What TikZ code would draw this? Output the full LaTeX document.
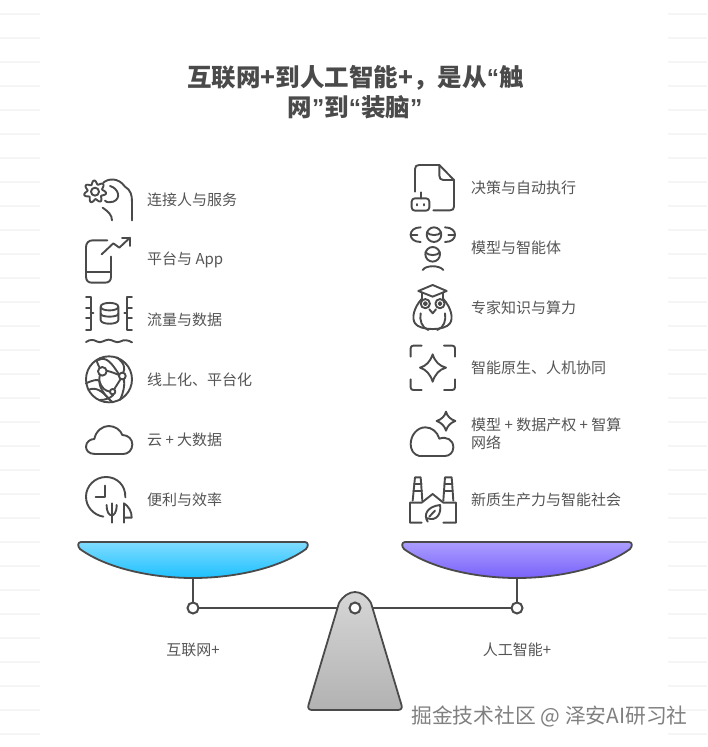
\documentclass[tikz,border=0pt]{standalone}
\usepackage{fontspec}
\setmainfont{Noto Sans CJK SC}
\newfontfamily\qfont{Liberation Sans}
\usetikzlibrary{calc}
\definecolor{ink}{HTML}{4A4A4A}
\definecolor{txt}{HTML}{555555}
\tikzset{
 lbl/.style={anchor=west,inner sep=0pt,font=\fontsize{15}{18}\selectfont,text=txt,align=left},
 caplbl/.style={anchor=center,inner sep=0pt,font=\fontsize{15}{18}\selectfont,text=txt},
 ttl/.style={anchor=center,inner sep=0pt,font=\fontsize{24.5}{30}\selectfont\bfseries,text=ink},
 ico/.style={draw=ink,line width=1.9pt,line cap=round,line join=round,fill=none},
 beamline/.style={draw=ink,line width=2pt},
 pivot/.style={circle,draw=ink,line width=2pt,fill=white,minimum size=11pt,inner sep=0pt},
 stripe/.style={draw=black!4,line width=1.5pt},
 za/.style={shift={(60pt,-160pt)},x=.3333pt,y=-.3333pt},
 zb/.style={shift={(60pt,-340pt)},x=.3333pt,y=-.3333pt},
 zc/.style={shift={(390pt,-155pt)},x=.3333pt,y=-.3333pt},
 zd/.style={shift={(390pt,-340pt)},x=.3333pt,y=-.3333pt},
}
\begin{document}
\begin{tikzpicture}[x=1pt,y=-1pt]
\useasboundingbox[fill=white] (0,0) rectangle (707,747);
% faint stripes
\foreach \k in {0,...,30}{
  \draw[stripe] (0,14+24*\k) -- (40,14+24*\k);
  \draw[stripe] (668,14+24*\k) -- (707,14+24*\k);
}
% title
\node[ttl] (t1) at (355.5,78) {互联网+到人工智能+，是从{\qfont\bfseries “}触};
\node[ttl] (t2) at (355,107) {网{\qfont\bfseries ”}到{\qfont\bfseries “}装脑{\qfont\bfseries ”}};
% left labels
\node[lbl] (l1) at (147,199.5) {连接人与服务};
\node[lbl] (l2) at (147,260) {平台与 App};
\node[lbl] (l3) at (147,319.5) {流量与数据};
\node[lbl] (l4) at (147,379.5) {线上化、平台化};
\node[lbl] (l5) at (147,439.5) {云 + 大数据};
\node[lbl] (l6) at (147,499.5) {便利与效率};
% right labels
\node[lbl] (r1) at (471,187.5) {决策与自动执行};
\node[lbl] (r2) at (471,247.5) {模型与智能体};
\node[lbl] (r3) at (471,307.5) {专家知识与算力};
\node[lbl] (r4) at (471,367.5) {智能原生、人机协同};
\node[lbl] (r5) at (471,433.5) {模型 + 数据产权 + 智算\\网络};
\node[lbl] (r6) at (471,499.5) {新质生产力与智能社会};
% ---- left icons
\begin{scope}[za]
 % gear + hand
 \draw[ico] plot[domain=0:360,samples=145,smooth] ({105+(28+5.5*sin(7*\x+30))*cos(\x)},{95+(28+5.5*sin(7*\x+30))*sin(\x)});
 \draw[ico] (105,95) circle (4pt);
 \draw[ico] (130,68) .. controls (145,55) and (175,52) .. (195,80) .. controls (212,90) and (216,105) .. (216,125) -- (216,181);
 \draw[ico] (150,78) .. controls (175,85) and (185,115) .. (160,125) .. controls (152,128) and (140,128) .. (135,122);
 \draw[ico] (128,143) .. controls (145,155) and (156,165) .. (156,181);
 % phone + arrow
 \draw[ico] (142,241) -- (98,241) .. controls (85,241) and (78,250) .. (78,262) -- (78,350) .. controls (78,362) and (85,368) .. (95,368) -- (135,368) .. controls (147,368) and (153,362) .. (153,350) -- (153,290);
 \draw[ico] (78,335) -- (153,335);
 \draw[ico] (125,283) -- (160,250) -- (178,263) -- (210,233);
 \draw[ico] (186,233) -- (210,233) -- (210,258);
 % data
 \draw[ico] (78,411) -- (92,411) -- (92,445) -- (78,445);
 \draw[ico] (100,460) -- (92,460);
 \draw[ico] (78,475) -- (92,475) -- (92,511) -- (78,511);
 \draw[ico] (92,445) -- (92,475);
 \draw[ico] (216,411) -- (201,411) -- (201,445) -- (216,445);
 \draw[ico] (193,460) -- (201,460);
 \draw[ico] (216,475) -- (201,475) -- (201,511) -- (216,511);
 \draw[ico] (201,445) -- (201,475);
 \draw[ico] (122,440) .. controls (122,425) and (175,425) .. (175,440) .. controls (175,455) and (122,455) .. (122,440) -- (122,480) .. controls (122,495) and (175,495) .. (175,480) -- (175,440);
 \draw[ico] (122,461) .. controls (122,473) and (175,473) .. (175,461);
 \draw[ico] (78,546) .. controls (90,538) and (100,538) .. (112,545) .. controls (122,551) and (135,539) .. (146,539) .. controls (158,539) and (168,551) .. (180,545) .. controls (192,538) and (204,540) .. (216,547);
\end{scope}
\begin{scope}[zb]
 % globe
 \draw[ico] (147,118) circle (23pt);
 \draw[ico] (127,94) circle (4.3pt);
 \draw[ico] (187,108) circle (3.4pt);
 \draw[ico] (158,155) circle (2.7pt);
 \draw[ico] (110,62) .. controls (112,70) and (116,78) .. (119,83);
 \draw[ico] (120,104) .. controls (115,125) and (115,150) .. (158,187);
 \draw[ico] (140,92) .. controls (155,96) and (165,100) .. (177,105);
 \draw[ico] (170,52) .. controls (195,70) and (195,85) .. (190,98);
 \draw[ico] (192,118) .. controls (195,135) and (190,160) .. (180,180);
 \draw[ico] (182,117) -- (163,147);
 \draw[ico] (78,130) .. controls (100,120) and (110,118) .. (118,122) .. controls (125,145) and (135,152) .. (150,155);
 \draw[ico] (115,60) .. controls (140,48) and (155,70) .. (175,100);
 \draw[ico] (85,150) .. controls (105,140) and (125,150) .. (150,180);
 \draw[ico] (160,165) .. controls (150,175) and (135,180) .. (120,180);
 % cloud
 \draw[ico] (105,342) .. controls (85,342) and (78,330) .. (78,320) .. controls (78,305) and (92,297) .. (103,297) .. controls (108,272) and (128,258) .. (146,258) .. controls (165,258) and (182,270) .. (187,285) .. controls (205,285) and (217,298) .. (217,313) .. controls (217,330) and (205,342) .. (190,342) -- cycle;
 % clock + plant
 \draw[ico] (196,472) .. controls (197,435) and (170,411) .. (138,411) .. controls (105,411) and (78,438) .. (78,470) .. controls (78,500) and (100,525) .. (130,530);
 \draw[ico] (135,437) -- (135,470) -- (107,470);
 \draw[ico] (155,490) -- (155,548);
 \draw[ico] (140,495) .. controls (140,518) and (148,526) .. (155,526) .. controls (162,526) and (170,518) .. (170,495);
 \draw[ico] (192,548) -- (192,490) .. controls (205,498) and (216,515) .. (215,533) -- (192,533);
\end{scope}
% ---- right icons
\begin{scope}[zc]
 % document + robot
 \draw[ico] (75,110) -- (75,42) .. controls (75,34) and (79,30) .. (87,30) -- (148,30) -- (192,75) -- (192,155) .. controls (192,162) and (188,166) .. (180,166) -- (130,166);
 \draw[ico] (148,30) -- (148,62) .. controls (148,70) and (152,75) .. (160,75) -- (192,75);
 \draw[ico] (75,130) -- (108,130) .. controls (114,130) and (118,134) .. (118,140) -- (118,157) .. controls (118,163) and (114,167) .. (108,167) -- (75,167) .. controls (69,167) and (65,163) .. (65,157) -- (65,140) .. controls (65,134) and (69,130) .. (75,130);
 \draw[ico] (92,130) -- (92,112);
 \draw[ico] (82,147) -- (82,151);
 \draw[ico] (102,147) -- (102,151);
 % model + heads
 \draw[ico] (92,217) .. controls (72,217) and (62,228) .. (62,239) .. controls (62,251) and (72,261) .. (92,261);
 \draw[ico] (62,239) -- (82,239);
 \draw[ico] (165,217) .. controls (185,217) and (195,228) .. (195,239) .. controls (195,251) and (185,261) .. (165,261);
 \draw[ico] (175,239) -- (195,239);
 \draw[ico] (132,239) circle (7.3pt);
 \draw[ico] (110,232) .. controls (120,243) and (145,243) .. (154,232);
 \draw[ico] (128,298) circle (7.3pt);
 \draw[ico] (106,292) .. controls (116,303) and (140,303) .. (150,292);
 \draw[ico] (98,345) .. controls (108,330) and (148,330) .. (160,345);
 % owl
 \draw[ico] (85,408) -- (128,390) -- (170,408) -- (128,425) -- cycle;
 \draw[ico] (95,413) -- (95,432);
 \draw[ico] (160,413) -- (160,432);
 \draw[ico] (95,432) .. controls (70,460) and (65,490) .. (75,505) .. controls (90,528) and (165,528) .. (180,505) .. controls (190,490) and (185,460) .. (160,432);
 \draw[ico] (106,446) circle (4.6pt);
 \draw[ico] (150,446) circle (4.6pt);
 \draw[ico] (106,446) circle (1.5pt);
 \draw[ico] (150,446) circle (1.5pt);
 \draw[ico] (118,463) -- (128,475) -- (138,463);
 \draw[ico] (92,475) .. controls (88,495) and (95,518) .. (115,525);
 \draw[ico] (165,475) .. controls (169,495) and (162,518) .. (142,525);
\end{scope}
\begin{scope}[zd]
 % frame + star
 \draw[ico] (95,17) -- (70,17) .. controls (65,17) and (62,20) .. (62,25) -- (62,50);
 \draw[ico] (162,17) -- (187,17) .. controls (192,17) and (195,20) .. (195,25) -- (195,50);
 \draw[ico] (62,118) -- (62,142) .. controls (62,147) and (65,150) .. (70,150) -- (95,150);
 \draw[ico] (162,150) -- (187,150) .. controls (192,150) and (195,147) .. (195,142) -- (195,118);
 \draw[ico] (128,43) .. controls (135,65) and (148,78) .. (168,83) .. controls (148,88) and (135,103) .. (128,125) .. controls (121,103) and (108,88) .. (90,83) .. controls (108,78) and (121,65) .. (128,43) -- cycle;
 % cloud + star
 \draw[ico] (168,215) .. controls (172,230) and (182,238) .. (196,243) .. controls (182,248) and (172,258) .. (168,272) .. controls (164,258) and (154,248) .. (140,243) .. controls (154,238) and (164,230) .. (168,215) -- cycle;
 \draw[ico] (88,348) .. controls (72,345) and (62,330) .. (62,313) .. controls (62,285) and (82,262) .. (106,262) .. controls (125,262) and (142,275) .. (148,296) .. controls (170,288) and (190,300) .. (190,322) .. controls (190,338) and (178,348) .. (165,348) -- cycle;
 % factory + leaf
 \draw[ico] (95,548) -- (60,548) -- (60,488) -- (95,488) -- (128,462) -- (160,488) -- (198,488) -- (198,548) -- (160,548);
 \draw[ico] (68,482) -- (75,412) -- (92,412) -- (97,482);
 \draw[ico] (72,432) -- (95,432);
 \draw[ico] (70,452) -- (96,452);
 \draw[ico] (160,482) -- (165,412) -- (185,412) -- (190,482);
 \draw[ico] (163,432) -- (187,432);
 \draw[ico] (162,452) -- (188,452);
 \draw[ico] (113,545) .. controls (100,525) and (110,500) .. (150,495) .. controls (155,520) and (140,545) .. (113,535);
 \draw[ico] (118,530) -- (135,512);
\end{scope}
% ---- balance
\coordinate (pl) at (193,608);
\coordinate (pr) at (517,608);
\coordinate (panlb) at (193,578);
\coordinate (panrb) at (517,578);
\draw[beamline] (panlb) -- (pl);
\draw[beamline] (panrb) -- (pr);
\draw[beamline] (pl) -- (pr);
\draw[line width=1.8pt,draw=ink,top color={rgb,255:red,127;green,220;blue,255},bottom color={rgb,255:red,30;green,192;blue,255}]
  (81,542) -- (305,542) .. controls (308,542) and (309,546) .. (306,549) .. controls (280,568) and (235,578) .. (193,578) .. controls (151,578) and (106,568) .. (80,549) .. controls (77,546) and (78,542) .. (81,542) -- cycle;
\draw[line width=1.8pt,draw=ink,top color={rgb,255:red,171;green,158;blue,255},bottom color={rgb,255:red,120;green,98;blue,250}]
  (405,542) -- (629,542) .. controls (632,542) and (633,546) .. (630,549) .. controls (604,568) and (559,578) .. (517,578) .. controls (475,578) and (430,568) .. (404,549) .. controls (401,546) and (402,542) .. (405,542) -- cycle;
\draw[line width=1.8pt,draw=ink,top color={rgb,255:red,214;green,214;blue,214},bottom color={rgb,255:red,178;green,178;blue,178},line join=round]
  (339,603) .. controls (343,596) and (349,592) .. (355,592) .. controls (361,592) and (367,596) .. (371,603) -- (401.5,705) .. controls (402.5,708) and (401,710) .. (398,710) -- (312,710) .. controls (309,710) and (307.5,708) .. (308.5,705) -- cycle;
\node[pivot] (nl) at (pl) {};
\node[pivot] (nr) at (pr) {};
\node[pivot] (nc) at (355,608) {};
\node[caplbl] (cl) at (193,649.5) {互联网+};
\node[caplbl] (cr) at (517,649.5) {人工智能+};
\node[anchor=center,inner sep=0pt,font=\fontsize{20.8}{24}\selectfont,text=black!50] (wm) at (549.5,716.5) {掘金技术社区 @ 泽安AI研习社};
\end{tikzpicture}
\end{document}
